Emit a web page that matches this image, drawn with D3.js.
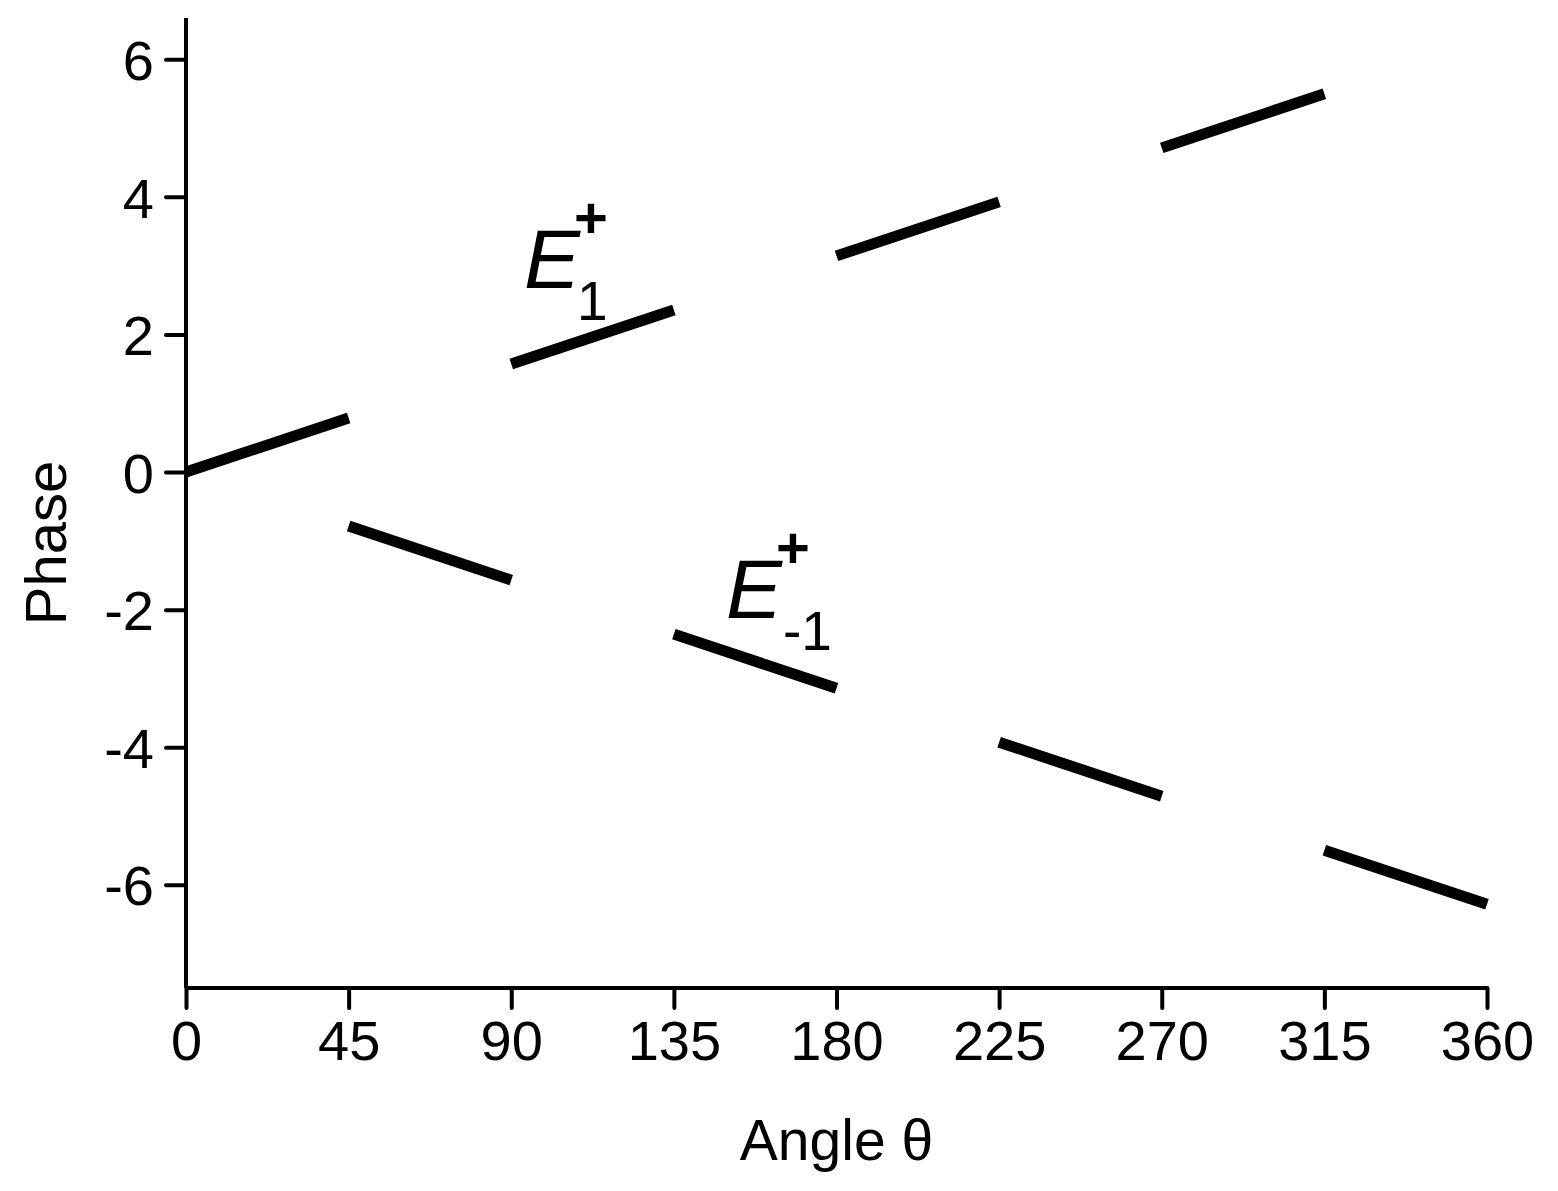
<!DOCTYPE html>
<html>
<head>
<meta charset="utf-8">
<script src="https://cdn.jsdelivr.net/npm/d3@7"></script>
<style>
  html, body { margin: 0; padding: 0; background: #fff; }
  svg { display: block; }
  text { font-family: "Liberation Sans", Arial, Helvetica, sans-serif; fill: #000; }
</style>
</head>
<body>
<svg id="chart" width="1558" height="1191"></svg>
<script>
// ---- data ----
const xTicks = [0, 45, 90, 135, 180, 225, 270, 315, 360];
const yTicks = [-6, -4, -2, 0, 2, 4, 6];

// E1+ : segments (theta start/end in degrees, phase start/end)
const e1Theta = [[0, 45], [90, 135], [180, 225], [270, 315]];
const e1Phase = [[0.0, 0.785], [1.571, 2.356], [3.142, 3.927], [4.712, 5.498]];

// E-1+ : segments
const em1Theta = [[45, 90], [135, 180], [225, 270], [315, 360]];
const em1Phase = [[-0.785, -1.571], [-2.356, -3.142], [-3.927, -4.712], [-5.498, -6.283]];

// ---- layout ----
const svg = d3.select("#chart");
const mLeft = 186, mRight = 1487, mTop = 18, mBottom = 988;

const x = d3.scaleLinear().domain([0, 360]).range([mLeft, mRight]);
const y = d3.scaleLinear().domain([-7.5, 6.6]).range([mBottom, mTop]);

// axes
const xAxis = d3.axisBottom(x).tickValues(xTicks).tickSize(20).tickPadding(12).tickFormat(d3.format("d"));
const yAxis = d3.axisLeft(y).tickValues(yTicks).tickSize(20).tickPadding(12).tickFormat(d => d < 0 ? "-" + Math.abs(d) : d);

const gx = svg.append("g").attr("transform", `translate(0,${mBottom})`).call(xAxis);
const gy = svg.append("g").attr("transform", `translate(${mLeft},0)`).call(yAxis);

[gx, gy].forEach(g => {
  g.select(".domain").attr("stroke", "#000").attr("stroke-width", 4);
  g.selectAll(".tick line").attr("stroke", "#000").attr("stroke-width", 4).attr("stroke-linecap", "round");
  g.selectAll(".tick text").style("font-size", "56px").attr("fill", "#000");
});
gx.select(".domain").attr("d", `M${mLeft},0H${mRight}`);
gy.select(".domain").attr("d", `M0,${mTop}V${mBottom}`);
gx.selectAll(".tick text").attr("dy", "0.71em");
gy.selectAll(".tick text").attr("dy", "0.36em");

// segments
const line = d3.line().x(d => x(d[0])).y(d => y(d[1]));
function drawSegments(thetas, phases) {
  const segs = thetas.map((t, i) => [[t[0], phases[i][0]], [t[1], phases[i][1]]]);
  svg.append("g").selectAll("path").data(segs).join("path")
    .attr("d", line)
    .attr("fill", "none")
    .attr("stroke", "#000")
    .attr("stroke-width", 11)
    .attr("stroke-linecap", "butt");
}
drawSegments(e1Theta, e1Phase);
drawSegments(em1Theta, em1Phase);

// axis titles
svg.append("text")
  .attr("x", (mLeft + mRight) / 2)
  .attr("y", 1160)
  .attr("text-anchor", "middle")
  .style("font-size", "57px")
  .text("Angle θ");

svg.append("text")
  .attr("transform", `translate(66,${543}) rotate(-90)`)
  .attr("text-anchor", "middle")
  .style("font-size", "58px")
  .text("Phase");

// annotations
function label(xE, yBase, sub, subDx) {
  const g = svg.append("g");
  g.append("text").attr("x", xE).attr("y", yBase)
    .style("font-size", "84px").style("font-style", "italic").text("E");
  g.append("text").attr("x", xE + 50).attr("y", yBase - 50)
    .style("font-size", "58px").style("font-weight", "bold").text("+");
  g.append("text").attr("x", xE + subDx).attr("y", yBase + 32)
    .style("font-size", "55px").text(sub);
}
label(524, 288, "1", 53);
label(726, 618, "-1", 57);
</script>
</body>
</html>
